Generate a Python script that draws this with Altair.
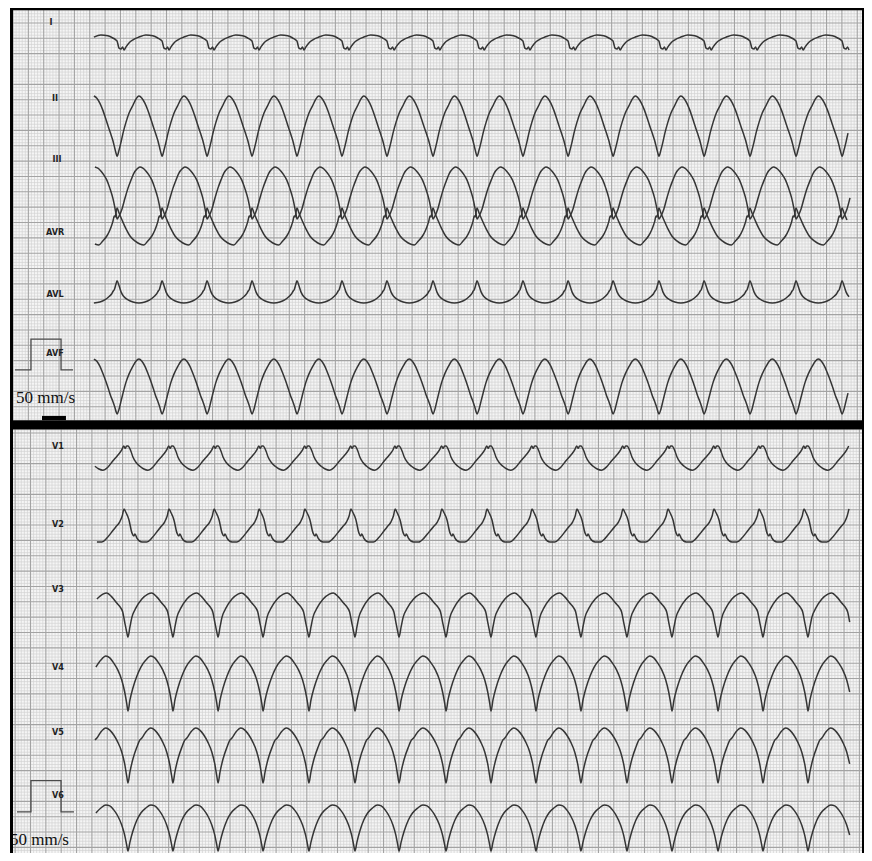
import altair as alt
import numpy as np
import pandas as pd

# ---------------- values read off the strip ----------------
# time in seconds (50 mm/s paper), amplitude in mV (10 mm/mV)
# beat fiducial times (QRS nadir of II for limb leads, of V3 for chest leads)
top_beats = [0.384, 0.678, 0.971, 1.264, 1.557, 1.850, 2.143, 2.436, 2.736, 3.023,
             3.322, 3.616, 3.909, 4.208, 4.502, 4.801, 5.101, 5.401, 5.694]
bottom_beats = [0.456, 0.749, 1.042, 1.336, 1.629, 1.928, 2.228, 2.515, 2.821, 3.114,
                3.407, 3.700, 4.000, 4.293, 4.593, 4.886, 5.179, 5.472]
trace_start = 0.515
trace_end = 5.453

lead_names = ["I", "II", "III", "AVR", "AVL", "AVF", "V1", "V2", "V3", "V4", "V5", "V6"]
lead_panel = ["top"] * 6 + ["bottom"] * 6
lead_baseline = [26.38, 23.64, 21.46, 20.32, 17.98, 15.17, 12.76, 10.55, 7.715, 5.467, 3.155, 0.777]

# one beat per lead: phase within the RR interval and amplitude (mV) about baseline
beat_phase = {
    "I":   [0, .044, .088, .121, .155, .199, .265, .353, .486, .640, .795, .905, .971],
    "II":  [0, .044, .088, .132, .199, .265, .353, .419, .486, .552, .618, .684, .751, .817, .861, .905, .949, .982],
    "III": [0, .044, .110, .177, .243, .309, .375, .442, .508, .574, .640, .706, .773, .839, .905, .949, .982],
    "AVR": [0, .044, .110, .199, .287, .397, .508, .596, .684, .773, .839, .883, .905, .938, .960, .982],
    "AVL": [0, .044, .088, .155, .243, .353, .486, .618, .728, .817, .883, .916, .938, .971],
    "AVF": [0, .044, .088, .132, .199, .265, .353, .419, .486, .552, .618, .684, .751, .817, .861, .905, .949, .982],
    "V1":  [0, .066, .110, .177, .265, .353, .442, .552, .662, .773, .861, .905, .938, .971],
    "V2":  [0, .022, .088, .132, .155, .199, .309, .419, .530, .640, .728, .817, .872, .912, .949, .982],
    "V3":  [0, .044, .088, .177, .309, .442, .530, .640, .751, .839, .883, .927, .971],
    "V4":  [0, .044, .110, .199, .287, .397, .508, .596, .684, .773, .861, .927, .971],
    "V5":  [0, .044, .110, .199, .265, .309, .397, .508, .596, .684, .773, .861, .927, .971],
    "V6":  [0, .044, .110, .199, .287, .397, .508, .596, .684, .773, .861, .927, .971],
}
beat_mv = {
    "I":   [0.03, -0.20, -0.23, -0.16, -0.26, -0.16, -0.03, 0.07, 0.16, 0.23, 0.20, 0.13, 0.07],
    "II":  [-0.98, -0.78, -0.52, -0.23, 0.13, 0.42, 0.68, 0.88, 0.98, 0.91, 0.75, 0.52, 0.23, -0.07, -0.26, -0.46, -0.72, -0.91],
    "III": [-0.85, -0.75, -0.52, -0.16, 0.16, 0.42, 0.65, 0.78, 0.85, 0.81, 0.72, 0.59, 0.42, 0.16, -0.16, -0.46, -0.72],
    "AVR": [0.65, 0.49, 0.26, -0.03, -0.26, -0.42, -0.52, -0.55, -0.42, -0.26, -0.07, 0.10, 0.20, 0.39, 0.36, 0.55],
    "AVL": [0.62, 0.46, 0.26, 0.10, 0.0, -0.07, -0.10, -0.07, 0.0, 0.10, 0.20, 0.29, 0.33, 0.49],
    "AVF": [-0.91, -0.75, -0.49, -0.23, 0.13, 0.39, 0.65, 0.81, 0.88, 0.81, 0.65, 0.42, 0.16, -0.13, -0.33, -0.49, -0.68, -0.85],
    "V1":  [0.46, 0.29, 0.10, -0.07, -0.20, -0.29, -0.33, -0.23, -0.03, 0.16, 0.33, 0.46, 0.39, 0.46],
    "V2":  [0.36, 0.26, -0.16, -0.26, -0.20, -0.33, -0.46, -0.46, -0.33, -0.13, 0.03, 0.20, 0.39, 0.62, 0.52, 0.42],
    "V3":  [-0.72, -0.39, -0.07, 0.23, 0.52, 0.68, 0.72, 0.59, 0.39, 0.23, 0.10, -0.23, -0.55],
    "V4":  [-0.88, -0.52, -0.13, 0.26, 0.55, 0.78, 0.91, 0.85, 0.68, 0.46, 0.13, -0.26, -0.62],
    "V5":  [-0.91, -0.55, -0.13, 0.26, 0.49, 0.55, 0.75, 0.88, 0.81, 0.65, 0.42, 0.10, -0.29, -0.68],
    "V6":  [-0.75, -0.46, -0.10, 0.26, 0.49, 0.65, 0.75, 0.72, 0.59, 0.39, 0.10, -0.23, -0.55],
}

# lead labels and calibration
label_t = [0.248, 0.274, 0.287, 0.274, 0.274, 0.274, 0.293, 0.293, 0.293, 0.293, 0.293, 0.293]
label_v = [27.03, 24.55, 22.57, 20.19, 18.17, 16.25, 13.22, 10.68, 8.56, 6.02, 3.90, 1.85]
cal_t = [0.013, 0.117, 0.117, 0.313, 0.313, 0.391]
cal_top_mv = [15.70, 15.70, 16.70, 16.70, 15.70, 15.70]
cal_t_bottom = [0.026, 0.117, 0.117, 0.313, 0.313, 0.397]
cal_bottom_mv = [1.30, 1.30, 2.32, 2.32, 1.30, 1.30]
speed_text = "50 mm/s"

# ---------------- build tables ----------------
rows = []
for name, panel, base in zip(lead_names, lead_panel, lead_baseline):
    beats = top_beats if panel == "top" else bottom_beats
    for k in range(len(beats) - 1):
        t0, t1 = beats[k], beats[k + 1]
        for ph, mv in zip(beat_phase[name], beat_mv[name]):
            t = t0 + ph * (t1 - t0)
            if trace_start <= t <= trace_end:
                rows.append({"lead": name, "t": t, "v": base + mv})
trace_df = pd.DataFrame(rows)

XD = [-0.0326, 5.544]
YD = [-0.0375, 27.487]
W, H = 856, 845
xs = alt.Scale(domain=XD, nice=False, zero=False)
ys = alt.Scale(domain=YD, nice=False, zero=False)

TOP_LO, TOP_HI = 14.06, 27.49
BOT_LO, BOT_HI = -0.04, 13.76
T_LO, T_HI = 0.0, 5.531


def grid_frames(t_off, v_off, v_lo, v_hi):
    idx = np.arange(0, int((T_HI - t_off) / 0.02) + 1)
    tv = np.round(t_off + idx * 0.02, 4)
    tmaj = (idx % 5) == 0
    first = v_off + np.ceil((v_lo - v_off) / 0.1) * 0.1
    jdx = np.arange(0, int((v_hi - first) / 0.1) + 1)
    vv = np.round(first + jdx * 0.1, 4)
    steps = np.round((vv - v_off) / 0.1).astype(int)
    hmaj = (steps % 5) == 0
    vert = pd.DataFrame({"t": tv, "y1": v_lo, "y2": v_hi, "major": tmaj})
    hor = pd.DataFrame({"v": vv, "x1": T_LO, "x2": T_HI, "major": hmaj})
    return vert, hor


vt, ht = grid_frames(0.0, 0.0, TOP_LO, TOP_HI)
vb, hb = grid_frames(0.014, 0.145, BOT_LO, BOT_HI)
vert = pd.concat([vt, vb])
hor = pd.concat([ht, hb])

MINOR = "#d3d3d3"
MAJOR = "#a3a3a3"
INK = "#353535"

paper_df = pd.DataFrame({"x1": [T_LO, T_LO], "x2": [T_HI, T_HI],
                         "y1": [TOP_LO, BOT_LO], "y2": [TOP_HI, BOT_HI]})
paper = alt.Chart(paper_df).mark_rect(color="#f5f5f5").encode(
    x=alt.X("x1:Q", scale=xs, axis=None), x2="x2", y=alt.Y("y1:Q", scale=ys, axis=None), y2="y2")


def vrules(df, color, w):
    return alt.Chart(df).mark_rule(color=color, strokeWidth=w).encode(
        x=alt.X("t:Q", scale=xs, axis=None), y=alt.Y("y1:Q", scale=ys, axis=None), y2="y2")


def hrules(df, color, w):
    return alt.Chart(df).mark_rule(color=color, strokeWidth=w).encode(
        y=alt.Y("v:Q", scale=ys, axis=None), x=alt.X("x1:Q", scale=xs, axis=None), x2="x2")


grid = [
    vrules(vert[~vert.major], MINOR, 0.7), hrules(hor[~hor.major], MINOR, 0.7),
    vrules(vert[vert.major], MAJOR, 1.1), hrules(hor[hor.major], MAJOR, 1.1),
]

traces = alt.Chart(trace_df).mark_line(color=INK, strokeWidth=1.5, interpolate="monotone").encode(
    x=alt.X("t:Q", scale=xs, axis=None), y=alt.Y("v:Q", scale=ys, axis=None), detail="lead:N")

cal_df = pd.concat([
    pd.DataFrame({"t": cal_t, "v": cal_top_mv, "g": "top", "o": range(6)}),
    pd.DataFrame({"t": cal_t_bottom, "v": cal_bottom_mv, "g": "bottom", "o": range(6)}),
])
cal = alt.Chart(cal_df).mark_line(color="#4a4a4a", strokeWidth=1.3).encode(
    x=alt.X("t:Q", scale=xs, axis=None), y=alt.Y("v:Q", scale=ys, axis=None), detail="g:N", order="o:Q")

lab_df = pd.DataFrame({"name": lead_names, "t": label_t, "v": label_v})
labels = alt.Chart(lab_df).mark_text(font="DejaVu Sans Condensed", fontSize=9, fontWeight="bold",
                                     color="#222222", align="center", baseline="middle").encode(
    x=alt.X("t:Q", scale=xs, axis=None), y=alt.Y("v:Q", scale=ys, axis=None), text="name:N")

speed_df = pd.DataFrame({"t": [0.02, -0.02], "v": [14.78, 0.39], "s": [speed_text, speed_text]})
speed = alt.Chart(speed_df).mark_text(font="Liberation Serif", fontSize=17, color="#111111",
                                      align="left", baseline="middle").encode(
    x=alt.X("t:Q", scale=xs, axis=None), y=alt.Y("v:Q", scale=ys, axis=None), text="s:N")

frame_df = pd.DataFrame({
    "x1": [-0.0195, -0.0195, -0.0195, T_HI, 0.189],
    "x2": [5.544, 0.0, 5.544, 5.544, 0.345],
    "y1": [27.41, -0.04, 13.76, -0.04, 14.06],
    "y2": [27.487, 27.487, 14.06, 27.487, 14.20],
})
frame = alt.Chart(frame_df).mark_rect(color="#000000").encode(
    x=alt.X("x1:Q", scale=xs, axis=None), x2="x2", y=alt.Y("y1:Q", scale=ys, axis=None), y2="y2")

chart = alt.layer(paper, *grid, traces, cal, labels, speed, frame).properties(
    width=W, height=H, padding=0, autosize=alt.AutoSizeParams(type="none"),
    background="white",
).configure_view(strokeWidth=0)

chart.save("out.html", embed_options={"renderer": "svg", "actions": False})
